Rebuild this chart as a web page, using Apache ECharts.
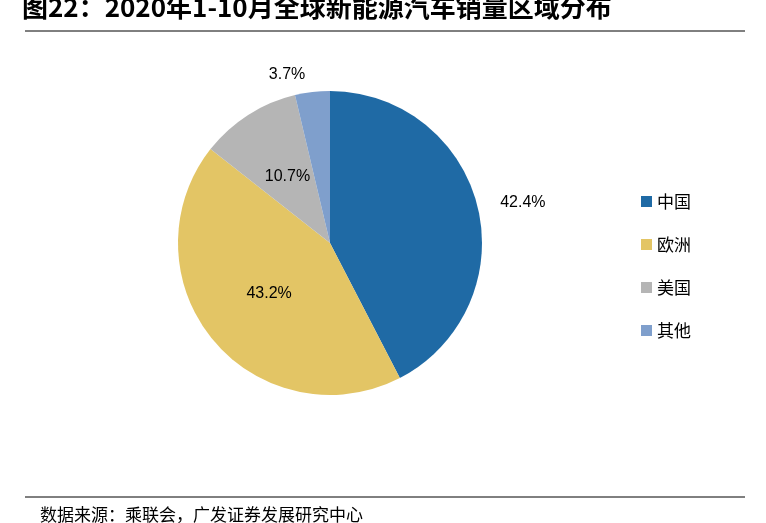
<!DOCTYPE html><html><head><meta charset="utf-8">
<script src="https://cdn.jsdelivr.net/npm/echarts@6/dist/echarts.min.js"></script>
<style>html,body{margin:0;background:#fff}#c{width:766px;height:523px}</style></head><body><div id="c"></div>
<script>
const categories=['中国','欧洲','美国','其他'];
const values=[42.4,43.2,10.7,3.7];
const colors=['#1f6aa5','#e3c565','#b5b5b5','#7f9fcc'];
const inside=[false,true,true,false];
const chart=echarts.init(document.getElementById('c'));
chart.setOption({
 animation:false,
 graphic:[
  {type:'text',left:22,top:-6,style:{text:'图22：2020年1-10月全球新能源汽车销量区域分布',font:'bold 26px "Noto Sans CJK SC"',fill:'#000'}},
  {type:'line',shape:{x1:25,y1:31,x2:745,y2:31},style:{stroke:'#000',lineWidth:1}},
  {type:'line',shape:{x1:25,y1:497,x2:745,y2:497},style:{stroke:'#000',lineWidth:1}},
  {type:'text',left:40,top:506,style:{text:'数据来源：乘联会，广发证券发展研究中心',font:'17px "Noto Sans CJK SC"',fill:'#000'}}
 ],
 legend:{orient:'vertical',left:636,top:188,itemGap:26,itemWidth:11,itemHeight:11,icon:'rect',
  textStyle:{fontSize:17,fontFamily:'"Noto Sans CJK SC"',color:'#000'},data:categories},
 series:[{type:'pie',center:[330,243],radius:[0,152],startAngle:90,clockwise:true,
  labelLine:{show:false,length:18,length2:0},
  label:{fontSize:16,fontFamily:'Liberation Sans',color:'#000',formatter:p=>p.value.toFixed(1)+'%'},
  data:categories.map((n,i)=>({name:n,value:values[i],itemStyle:{color:colors[i]},
   label:{position:inside[i]?'inside':'outside'}}))}]
});
</script></body></html>
